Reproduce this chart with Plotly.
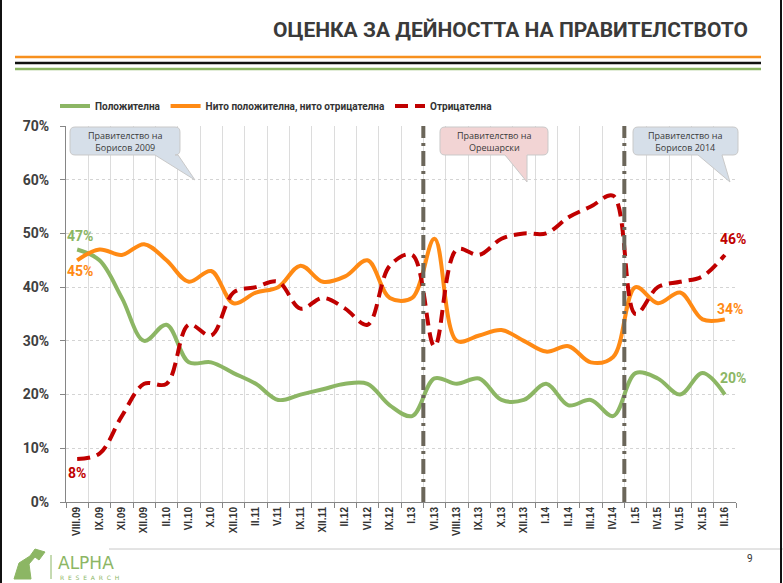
import plotly.graph_objects as go

# survey waves
waves = ["VIII.09", "IX.09", "XI.09", "XII.09", "II.10", "VI.10", "X.10", "XII.10",
         "II.11", "V.11", "IX.11", "XII.11", "II.12", "VI.12", "IX.12", "I.13",
         "VI.13", "VIII.13", "IX.13", "X.13", "XII.13", "I.14", "II.14", "III.14",
         "IV.14", "I.15", "IV.15", "VI.15", "XI.15", "II.16"]

# % of respondents
positive = [47, 45, 38, 30, 33, 26, 26, 24, 22, 19, 20, 21, 22, 22, 18, 16,
            23, 22, 23, 19, 19, 22, 18, 19, 16, 24, 23, 20, 24, 20]
neutral = [45, 47, 46, 48, 45, 41, 43, 37, 39, 40, 44, 41, 42, 45, 38, 38,
           49, 30, 31, 32, 30, 28, 29, 26, 27, 40, 37, 39, 34, 34]
negative = [8, 9, 16, 22, 22, 33, 31, 39, 40, 41, 36, 38, 36, 33, 44, 46,
            29, 47, 46, 49, 50, 50, 53, 55, 57, 35, 40, 41, 42, 46]

names = ["Положителна", "Нито положителна, нито отрицателна", "Отрицателна"]

# first wave of each new government
gov_starts = ["VI.13", "I.15"]
gov_labels = ["Правителство на<br>Борисов 2009", "Правителство на<br>Орешарски",
              "Правителство на<br>Борисов 2014"]

GREEN = "#8cb664"
ORANGE = "#ff8a14"
RED = "#c00000"

W, H = 783, 583
L, R, T, B = 66, 47, 126, 81
PW, PH = W - L - R, H - T - B


def px(x):
    return (x - L) / PW


def py(y):
    return (H - B - y) / PH


def note(x, y, text, font, xa="center", ya="middle"):
    fig.add_annotation(x=px(x), y=py(y), xref="paper", yref="paper", text=text,
                       showarrow=False, xanchor=xa, yanchor=ya, font=font)


fig = go.Figure()
fig.add_trace(go.Scatter(x=waves, y=positive, name=names[0], mode="lines",
                         line=dict(color=GREEN, width=4, shape="spline")))
fig.add_trace(go.Scatter(x=waves, y=neutral, name=names[1], mode="lines",
                         line=dict(color=ORANGE, width=4, shape="spline")))
fig.add_trace(go.Scatter(x=waves, y=negative, name=names[2], mode="lines",
                         line=dict(color=RED, width=4, shape="spline", dash="13px,7px")))

# government change markers
for w in gov_starts:
    xpos = waves.index(w) - 0.5
    fig.add_shape(type="line", xref="x", yref="y", x0=xpos, x1=xpos, y0=0, y1=70,
                  line=dict(color="#6b665a", width=4, dash="15px,5px,3px,5px"))

# callout boxes
boxes = [(70, 180, 127, 155, 155, 178, 195, 180, "#d6dfe9"),
         (440, 548, 127, 155, 505, 527, 527, 182, "#f2d4d4"),
         (633, 738, 127, 155, 698, 722, 730, 182, "#d6dfe9")]
for (x0, x1, y0, y1, b0, b1, tx, ty, col), lab in zip(boxes, gov_labels):
    r = 5
    pts = [("M", x0 + r, y0), ("L", x1 - r, y0), ("Q", x1, y0, x1, y0 + r),
           ("L", x1, y1 - r), ("Q", x1, y1, x1 - r, y1), ("L", b1, y1), ("L", tx, ty),
           ("L", b0, y1), ("L", x0 + r, y1), ("Q", x0, y1, x0, y1 - r),
           ("L", x0, y0 + r), ("Q", x0, y0, x0 + r, y0)]
    path = ""
    for p in pts:
        coords = p[1:]
        segs = [f"{px(coords[i]):.4f},{py(coords[i + 1]):.4f}" for i in range(0, len(coords), 2)]
        path += p[0] + " " + " ".join(segs) + " "
    fig.add_shape(type="path", xref="paper", yref="paper", path=path + "Z",
                  fillcolor=col, line=dict(color="#c9c9c9", width=1), layer="above")
    note((x0 + x1) / 2, (y0 + y1) / 2 + 1, lab,
         dict(family="Open Sans", size=9, color="#3a3a3a"))

# start / end value labels
lab_font = dict(family="Roboto", size=14, weight="bold")
fig.add_annotation(x=waves[0], y=positive[0], text=f"{positive[0]}%", showarrow=False,
                   xshift=3, yshift=14, font=dict(color=GREEN, **lab_font))
fig.add_annotation(x=waves[0], y=neutral[0], text=f"{neutral[0]}%", showarrow=False,
                   xshift=3, yshift=-11, font=dict(color=ORANGE, **lab_font))
fig.add_annotation(x=waves[0], y=negative[0], text=f"{negative[0]}%", showarrow=False,
                   xshift=0, yshift=-14, font=dict(color=RED, **lab_font))
fig.add_annotation(x=waves[-1], y=negative[-1], text=f"{negative[-1]}%", showarrow=False,
                   xshift=8, yshift=16, font=dict(color=RED, **lab_font))
fig.add_annotation(x=waves[-1], y=neutral[-1], text=f"{neutral[-1]}%", showarrow=False,
                   xshift=5, yshift=10, font=dict(color=ORANGE, **lab_font))
fig.add_annotation(x=waves[-1], y=positive[-1], text=f"{positive[-1]}%", showarrow=False,
                   xshift=8, yshift=17, font=dict(color=GREEN, **lab_font))

# slide header
title = "ОЦЕНКА ЗА ДЕЙНОСТТА НА ПРАВИТЕЛСТВОТО"
note(750, 30, title, dict(family="Roboto", size=21, weight="bold", color="#3a3a3a"), xa="right")
for yy, col in [(57, "#f7901e"), (63, "#111111"), (69, "#8cb664")]:
    fig.add_shape(type="line", xref="paper", yref="paper", x0=px(15), x1=px(761),
                  y0=py(yy), y1=py(yy), line=dict(color=col, width=2.5))

# footer
fig.add_shape(type="line", xref="paper", yref="paper", x0=px(109), x1=px(783),
              y0=py(549), y1=py(549), line=dict(color="#c8c8c8", width=1))
note(750, 558, "9", dict(family="Roboto", size=10, color="#333333"))
note(56, 563, "ALPHA", dict(family="DejaVu Sans", size=17, color="#8cb664"), xa="left")
note(58, 577, "R  E  S  E  A  R  C  H", dict(family="DejaVu Sans", size=6, color="#8cb664"), xa="left")
fig.add_shape(type="line", xref="paper", yref="paper", x0=px(51), x1=px(51),
              y0=py(555), y1=py(579), line=dict(color="#8cb664", width=1))
fig.add_shape(type="path", xref="paper", yref="paper", fillcolor="#8cb664",
              line=dict(color="#8cb664", width=1),
              path=(f"M {px(14)},{py(579)} L {px(19)},{py(563)} L {px(30)},{py(556)} "
                    f"L {px(35)},{py(549)} L {px(45)},{py(552)} L {px(39)},{py(560)} "
                    f"L {px(35)},{py(557)} L {px(29)},{py(564)} L {px(31)},{py(579)} Z"))

# slide frame
for xx in (1, 781):
    fig.add_shape(type="line", xref="paper", yref="paper", x0=px(xx), x1=px(xx),
                  y0=py(0), y1=py(583), line=dict(color="#111111", width=2))

fig.update_layout(
    width=W, height=H,
    margin=dict(l=L, r=R, t=T, b=B),
    paper_bgcolor="white", plot_bgcolor="white",
    showlegend=True,
    legend=dict(orientation="h", x=px(55), y=py(106), xanchor="left", yanchor="middle",
                font=dict(family="Roboto", size=10, weight="bold", color="#333333"),
                bgcolor="rgba(0,0,0,0)"),
    xaxis=dict(type="category", range=[-0.5, len(waves) - 0.5], tickson="boundaries",
               ticks="outside", ticklen=5, tickcolor="#868686",
               showline=True, linecolor="#868686", showgrid=True, gridcolor="#dcdcdc",
               tickangle=-90,
               tickfont=dict(family="Liberation Sans", size=10, weight="bold", color="#333333")),
    yaxis=dict(range=[0, 70], dtick=10, ticksuffix="%", ticks="outside", ticklen=5,
               tickcolor="#868686", showline=True, linecolor="#868686",
               gridcolor="#d4d4d4", griddash="dot", zeroline=False, ticklabelstandoff=8,
               tickfont=dict(family="Roboto", size=14, weight="bold", color="#404040")),
)

# drop the default page margin so the slide fills the window
fig.write_html("out.html", config={"displayModeBar": False},
               post_script="document.body.style.margin='0';")
